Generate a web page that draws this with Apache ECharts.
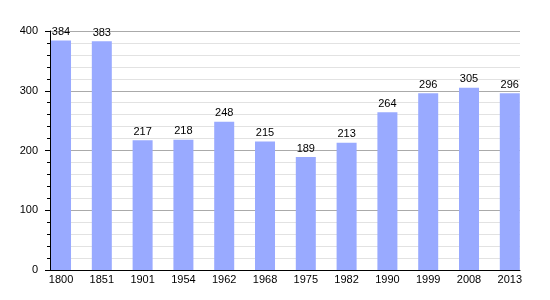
<!DOCTYPE html>
<html>
<head>
<meta charset="utf-8">
<script src="https://cdn.jsdelivr.net/npm/echarts@6/dist/echarts.min.js"></script>
<style>
html,body{margin:0;padding:0;background:#fff;}
#chart{width:550px;height:300px;}
</style>
</head>
<body>
<div id="chart"></div>
<script>
const years = ['1800','1851','1901','1954','1962','1968','1975','1982','1990','1999','2008','2013'];
const population = [384, 383, 217, 218, 248, 215, 189, 213, 264, 296, 305, 296];
const yTicks = [0, 100, 200, 300, 400];

const chart = echarts.init(document.getElementById('chart'), null, {renderer: 'canvas'});
const FONT = 'Liberation Sans, Arial, sans-serif';
const idx = years.map((_, i) => i);
chart.setOption({
  animation: false,
  backgroundColor: '#fff',
  grid: {left: 50, right: 30, top: 31, bottom: 30, containLabel: false},
  xAxis: {
    type: 'value',
    min: -0.27,
    max: 11.25,
    axisLine: {show: true, onZero: false, lineStyle: {color: '#000', width: 1}},
    axisTick: {show: false},
    splitLine: {show: false},
    axisLabel: {
      customValues: idx,
      formatter: v => years[Math.round(v)],
      color: '#000', fontFamily: FONT, fontSize: 11, margin: 4
    }
  },
  yAxis: {
    type: 'value',
    min: yTicks[0],
    max: yTicks[yTicks.length - 1],
    interval: 100,
    axisLine: {show: true, onZero: false, lineStyle: {color: '#000', width: 1}},
    axisTick: {show: true, length: 5, lineStyle: {color: '#000'}},
    minorTick: {show: true, splitNumber: 5, length: 3, lineStyle: {color: '#000'}},
    splitLine: {show: true, lineStyle: {color: '#aaaaaa', width: 1}},
    minorSplitLine: {show: true, lineStyle: {color: '#e2e2e2', width: 1}},
    axisLabel: {color: '#000', fontFamily: FONT, fontSize: 11, margin: 12}
  },
  series: [{
    type: 'bar',
    data: population.map((v, i) => [i, v]),
    barWidth: 20,
    itemStyle: {color: '#99aaff'},
    label: {show: true, position: 'top', distance: 3, color: '#000', fontFamily: FONT, fontSize: 11}
  }]
});
</script>
</body>
</html>
